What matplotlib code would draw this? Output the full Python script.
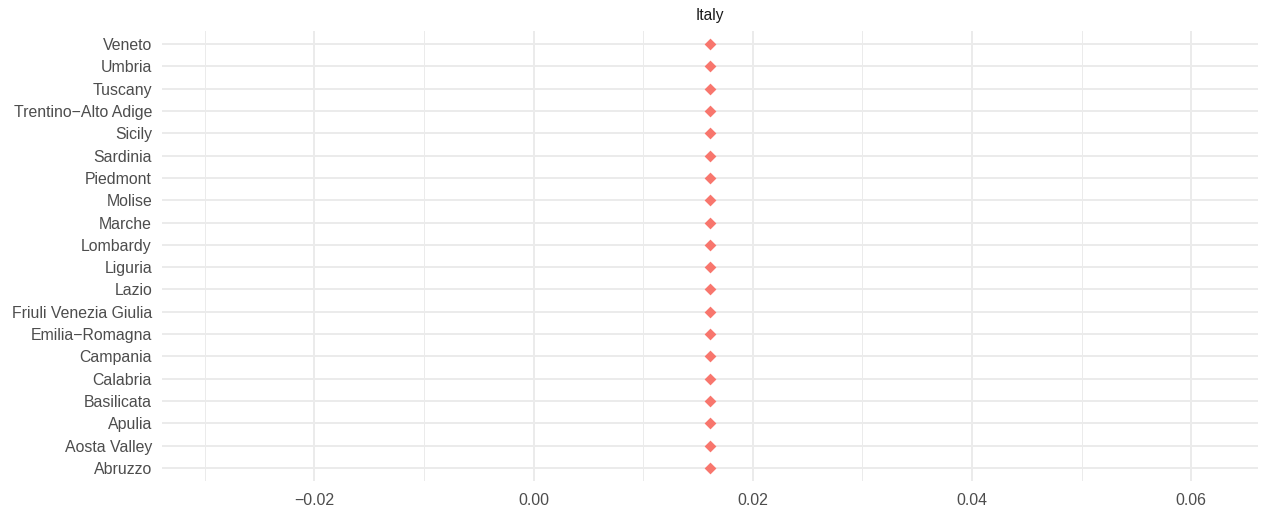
import matplotlib
matplotlib.use("Agg")
import matplotlib.pyplot as plt
import numpy as np

plt.rcParams['font.family'] = ['Liberation Sans', 'DejaVu Sans']

regions = ["Abruzzo", "Aosta Valley", "Apulia", "Basilicata", "Calabria",
           "Campania", "Emilia\u2212Romagna", "Friuli Venezia Giulia", "Lazio",
           "Liguria", "Lombardy", "Marche", "Molise", "Piedmont", "Sardinia",
           "Sicily", "Trentino\u2212Alto Adige", "Tuscany", "Umbria", "Veneto"]
values = [0.0161] * len(regions)
x_ticks = [-0.02, 0.00, 0.02, 0.04, 0.06]
x_minor = [-0.03, -0.01, 0.01, 0.03, 0.05]
facet_title = "Italy"

W, H = 1264, 518
fig = plt.figure(figsize=(W / 100, H / 100), dpi=100)
ax = fig.add_axes([162 / W, 36.6 / H, (1258 - 162) / W, (481.4 - 30.6) / H])

y = np.arange(len(regions))
ax.scatter(values, y, marker='D', s=36, color='#F8766D', linewidths=0, zorder=3)

ax.set_xlim(0.0161 - 0.05, 0.0161 + 0.05)
ax.set_ylim(-0.6, len(regions) - 1 + 0.6)
ax.set_xticks(x_ticks)
ax.set_xticklabels(["\u22120.02", "0.00", "0.02", "0.04", "0.06"])
ax.set_xticks(x_minor, minor=True)
ax.set_yticks(y)
ax.set_yticklabels(regions)

ax.grid(True, which='major', color='#EBEBEB', linewidth=1.4)
ax.grid(True, which='minor', axis='x', color='#EBEBEB', linewidth=0.7)
ax.set_axisbelow(True)
for s in ax.spines.values():
    s.set_visible(False)
ax.tick_params(which='both', length=0, labelsize=11.4, labelcolor='#4D4D4D')
ax.tick_params(axis='x', pad=8.5)
ax.tick_params(axis='y', pad=7.2)

ax.set_title(facet_title, fontsize=11.2, color='#1A1A1A', pad=7.5)

fig.savefig("out.png", dpi=100)
